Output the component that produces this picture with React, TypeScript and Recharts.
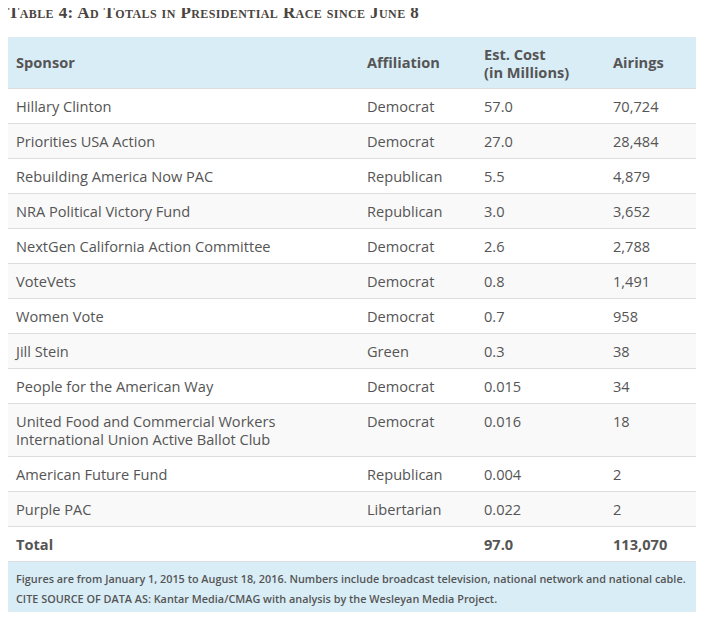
import React from "react";
import { Surface, Layer, Rectangle, Text } from "recharts";

const title = "Table 4: Ad Totals in Presidential Race since June 8";
const headerSponsor = "Sponsor";
const headerAffiliation = "Affiliation";
const headerCost = ["Est. Cost", "(in Millions)"];
const headerAirings = "Airings";

const sponsors: string[][] = [
  ["Hillary Clinton"],
  ["Priorities USA Action"],
  ["Rebuilding America Now PAC"],
  ["NRA Political Victory Fund"],
  ["NextGen California Action Committee"],
  ["VoteVets"],
  ["Women Vote"],
  ["Jill Stein"],
  ["People for the American Way"],
  ["United Food and Commercial Workers", "International Union Active Ballot Club"],
  ["American Future Fund"],
  ["Purple PAC"],
];
const affiliations = [
  "Democrat", "Democrat", "Republican", "Republican", "Democrat", "Democrat",
  "Democrat", "Green", "Democrat", "Democrat", "Republican", "Libertarian",
];
const costs = ["57.0", "27.0", "5.5", "3.0", "2.6", "0.8", "0.7", "0.3", "0.015", "0.016", "0.004", "0.022"];
const airings = ["70,724", "28,484", "4,879", "3,652", "2,788", "1,491", "958", "38", "34", "18", "2", "2"];
const totalLabel = "Total";
const totalCost = "97.0";
const totalAirings = "113,070";
const notes = [
  "Figures are from January 1, 2015 to August 18, 2016. Numbers include broadcast television, national network and national cable.",
  "CITE SOURCE OF DATA AS: Kantar Media/CMAG with analysis by the Wesleyan Media Project.",
];

const FONT = "'Open Sans', sans-serif";
const FS = 14.6;
const TEXT = "#555555";
const BLUE = "#d9edf7";
const STRIPE = "#f9f9f9";
const BORDER = "#dddddd";

const X0 = 8;
const X1 = 696;
const COL = [16, 367, 484, 613];
const LINE_H = 18;

export default function App() {
  const headerTop = 37;
  const headerBottom = 89;
  let y = headerBottom;
  const rows: React.ReactNode[] = [];
  sponsors.forEach((lines, i) => {
    const h = lines.length * LINE_H + 17;
    const top = y;
    const firstY = top + 18;
    rows.push(
      <Layer key={"r" + i}>
        <Rectangle x={X0} y={top} width={X1 - X0} height={h} fill={i % 2 === 1 ? STRIPE : "#ffffff"} />
        <Rectangle x={X0} y={top + h - 1} width={X1 - X0} height={1} fill={BORDER} />
        {lines.map((l, j) => (
          <Text key={j} x={COL[0]} y={firstY + j * LINE_H} verticalAnchor="middle" fontFamily={FONT} fontSize={FS} fill={TEXT}>
            {l}
          </Text>
        ))}
        <Text x={COL[1]} y={firstY} verticalAnchor="middle" fontFamily={FONT} fontSize={FS} fill={TEXT}>{affiliations[i]}</Text>
        <Text x={COL[2]} y={firstY} verticalAnchor="middle" fontFamily={FONT} fontSize={FS} fill={TEXT}>{costs[i]}</Text>
        <Text x={COL[3]} y={firstY} verticalAnchor="middle" fontFamily={FONT} fontSize={FS} fill={TEXT}>{airings[i]}</Text>
      </Layer>
    );
    y += h;
  });
  const totalTop = y;
  const totalH = 35;
  const footTop = totalTop + totalH;
  const footBottom = 616;

  return (
    <div style={{ width: 704, height: 620, margin: -8, background: "#ffffff" }}>
      <Surface width={704} height={620} viewBox={{ x: 0, y: 0, width: 704, height: 620 }}>
        <Rectangle x={0} y={0} width={704} height={620} fill="#ffffff" />
        <Text x={8} y={12} verticalAnchor="middle" fontFamily="'Liberation Serif', serif" fontSize={17} fontWeight={700} fill="#4a4440" letterSpacing={0.4} style={{ fontVariant: "small-caps" }}>
          {title}
        </Text>
        <Rectangle x={X0} y={headerTop} width={X1 - X0} height={headerBottom - headerTop} fill={BLUE} />
        <Rectangle x={X0} y={headerBottom - 1} width={X1 - X0} height={2} fill={BORDER} />
        <Text x={COL[0]} y={63} verticalAnchor="middle" fontFamily={FONT} fontSize={FS} fontWeight={700} fill={TEXT}>{headerSponsor}</Text>
        <Text x={COL[1]} y={63} verticalAnchor="middle" fontFamily={FONT} fontSize={FS} fontWeight={700} fill={TEXT}>{headerAffiliation}</Text>
        <Text x={COL[2]} y={55} verticalAnchor="middle" fontFamily={FONT} fontSize={FS} fontWeight={700} fill={TEXT}>{headerCost[0]}</Text>
        <Text x={COL[2]} y={73} verticalAnchor="middle" fontFamily={FONT} fontSize={FS} fontWeight={700} fill={TEXT}>{headerCost[1]}</Text>
        <Text x={COL[3]} y={63} verticalAnchor="middle" fontFamily={FONT} fontSize={FS} fontWeight={700} fill={TEXT}>{headerAirings}</Text>
        {rows}
        <Rectangle x={X0} y={totalTop} width={X1 - X0} height={totalH} fill="#ffffff" />
        <Text x={COL[0]} y={totalTop + 18} verticalAnchor="middle" fontFamily={FONT} fontSize={FS} fontWeight={700} fill={TEXT}>{totalLabel}</Text>
        <Text x={COL[2]} y={totalTop + 18} verticalAnchor="middle" fontFamily={FONT} fontSize={FS} fontWeight={700} fill={TEXT}>{totalCost}</Text>
        <Text x={COL[3]} y={totalTop + 18} verticalAnchor="middle" fontFamily={FONT} fontSize={FS} fontWeight={700} fill={TEXT}>{totalAirings}</Text>
        <Rectangle x={X0} y={footTop} width={X1 - X0} height={footBottom - footTop} fill={BLUE} />
        <Rectangle x={X0} y={footTop - 1} width={X1 - X0} height={1} fill={BORDER} />
        {notes.map((n, i) => (
          <Text key={i} x={COL[0]} y={footTop + 17 + i * 20} verticalAnchor="middle" fontFamily={FONT} fontSize={10.85} fontWeight={600} fill={TEXT}>
            {n}
          </Text>
        ))}
      </Surface>
    </div>
  );
}
